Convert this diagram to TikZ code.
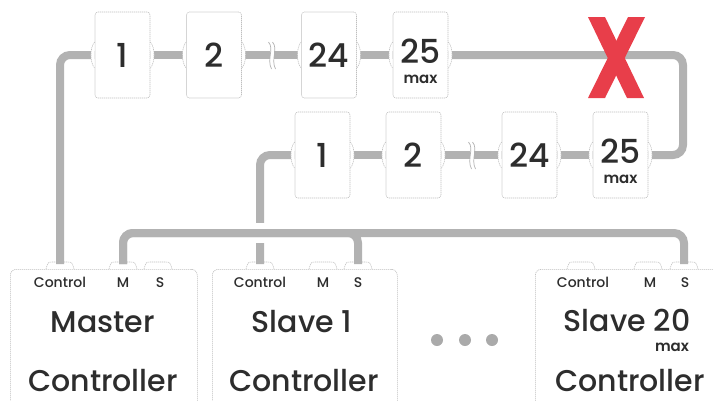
\documentclass[tikz,border=0pt]{standalone}
\usepackage{fontspec}
\setmainfont{Poppins}[UprightFont=* Medium, BoldFont=* SemiBold]
\usetikzlibrary{calc}
\definecolor{cable}{RGB}{178,178,178}
\definecolor{edge}{RGB}{190,190,190}
\definecolor{ink}{RGB}{45,45,45}
\definecolor{cross}{RGB}{232,62,74}
\definecolor{dotcol}{RGB}{170,170,170}
\tikzset{
  outline/.style={draw=edge, line width=0.6pt, dash pattern=on 1.2pt off 0.8pt},
  cell/.style={outline, fill=white, rounded corners=3pt, minimum width=55pt,
    minimum height=86pt, inner sep=0pt},
  unit/.style={outline, fill=white, rounded corners=6pt, minimum height=150pt,
    anchor=north west, inner sep=0pt},
  wire/.style={draw=cable, line width=8pt, rounded corners=10pt},
  halo/.style={draw=white, line width=20pt},
  num/.style={text=ink, font=\fontsize{33}{33}\selectfont, inner sep=0pt},
  maxlbl/.style={text=ink, font=\bfseries\fontsize{15}{15}\selectfont, inner sep=0pt},
  portlbl/.style={text=ink, font=\fontsize{14}{14}\selectfont, inner sep=0pt, anchor=base},
  title/.style={text=ink, font=\fontsize{30}{30}\selectfont, inner sep=0pt, anchor=base},
  sidebump/.pic={
    \fill[white] (0,-13) .. controls (-5,-8) and (-5,8) .. (0,13) -- cycle;
    \draw[outline] (0,-13) .. controls (-5,-8) and (-5,8) .. (0,13);
  },
  topbump/.pic={
    \fill[white] (-14,0) .. controls (-12,-7) .. (-7,-7) -- (7,-7) .. controls (12,-7) .. (14,0) -- cycle;
    \draw[outline] (-14,0) .. controls (-12,-7) .. (-7,-7) -- (7,-7) .. controls (12,-7) .. (14,0);
  },
  breakmark/.pic={
    \fill[white] (-2,-5) rectangle (2,5);
    \draw[cable, line width=0.7pt] (-3,-13) .. controls (3,-6) and (-5,4) .. (0,14);
    \draw[cable, line width=0.7pt] (1,-13) .. controls (7,-6) and (-1,4) .. (4,14);
  }
}
\begin{document}
\begin{tikzpicture}[x=1pt, y=-1pt]
\useasboundingbox (0,0) rectangle (713,400);
\clip (0,0) rectangle (713,400);

% controller units
\node[unit, minimum width=187pt] (master) at (10,269) {};
\node[unit, minimum width=185pt] (slave1) at (212,269) {};
\node[unit, minimum width=200pt] (slave20) at (535,269) {};

% connection points on top of the units
\coordinate (ma-c) at (60,264);  \coordinate (ma-m) at (123,264);  \coordinate (ma-s) at (158,264);
\coordinate (s1-c) at (260,264); \coordinate (s1-m) at (323,264);  \coordinate (s1-s) at (358,264);
\coordinate (sz-c) at (581,264); \coordinate (sz-m) at (648,264);  \coordinate (sz-s) at (684,264);
\foreach \p in {ma-c,ma-m,ma-s,s1-c,s1-m,s1-s,sz-c,sz-m,sz-s}
  \pic at ([yshift=-5pt]\p) {topbump};

% port labels and titles
\node[portlbl] (ma-lc) at (60,287) {Control};
\node[portlbl] (ma-lm) at (123,287) {M};
\node[portlbl] (ma-ls) at (160,287) {S};
\node[title] (ma-t1) at (103,332) {Master};
\node[title] (ma-t2) at (103,391) {Controller};

\node[portlbl] (s1-lc) at (260,287) {Control};
\node[portlbl] (s1-lm) at (323,287) {M};
\node[portlbl] (s1-ls) at (358,287) {S};
\node[title] (s1-t1) at (302,332) {Slave 1};
\node[title] (s1-t2) at (304,391) {Controller};

\node[portlbl] (sz-lc) at (583,287) {Control};
\node[portlbl] (sz-lm) at (650,287) {M};
\node[portlbl] (sz-ls) at (685,287) {S};
\node[title] (sz-t1) at (627,331) {Slave 20};
\node[maxlbl, anchor=base] (sz-max) at (672,351) {max};
\node[title] (sz-t2) at (630,391) {Controller};

% ellipsis between the slaves
\foreach \x [count=\i] in {437,465,492}
  \fill[dotcol] (\x,340) circle (6);

% fixture chains
\node[cell] (t1) at (122.5,55) {};
\node[cell] (t2) at (214,55) {};
\node[cell] (t24) at (329,55) {};
\node[cell] (t25) at (420.5,55) {};
\node[cell] (b1) at (322.5,155) {};
\node[cell] (b2) at (413.5,155) {};
\node[cell] (b24) at (529.5,155) {};
\node[cell] (b25) at (620.5,155) {};

\node[num] (t1n) at (t1) {1};
\node[num] (t2n) at (t2) {2};
\node[num] (t24n) at (t24) {24};
\node[num] (t25n) at (420.5,51) {25};
\node[maxlbl] (t25m) at (420.5,79) {max};
\node[num] (b1n) at (b1) {1};
\node[num] (b2n) at (b2) {2};
\node[num] (b24n) at (b24) {24};
\node[num] (b25n) at (620.5,151) {25};
\node[maxlbl] (b25m) at (620.5,179) {max};

% control cables
\coordinate (turn) at (683,100);
\draw[wire] (ma-c) |- (t1.west);
\draw[wire] (t1.east) -- (t2.west);
\draw[wire] (t2.east) -- (t24.west);
\draw[wire] (t24.east) -- (t25.west);
\draw[wire] (t25.east) -| (turn) |- (b25.east);
\draw[wire] (b25.west) -- (b24.east);
\draw[wire] (b24.west) -- (b2.east);
\draw[wire] (b2.west) -- (b1.east);
\draw[wire] (b1.west) -| (s1-c);

\pic at ($(t2.east)!0.5!(t24.west)$) {breakmark};
\pic at ($(b24.west)!0.5!(b2.east)$) {breakmark};

% side sockets of the fixtures
\foreach \n in {t1,t2,t24,t25,b1,b2,b24,b25} {
  \pic at (\n.west) {sidebump};
  \pic[xscale=-1] at (\n.east) {sidebump};
}

% master / slave link
\coordinate (bus) at (0,233);
\draw[halo] (ma-m |- bus) -- (sz-s |- bus);
\draw[wire] (ma-m) |- (sz-s |- bus) -- (sz-s);
\draw[wire] (ma-m) |- (s1-s |- bus) -- (s1-s);

% the forbidden link
\fill[cross] (588,17) -- (605,17) -- (644,98) -- (627,98) -- cycle;
\fill[cross] (628,17) -- (645,17) -- (605,98) -- (588,98) -- cycle;
\end{tikzpicture}
\end{document}
